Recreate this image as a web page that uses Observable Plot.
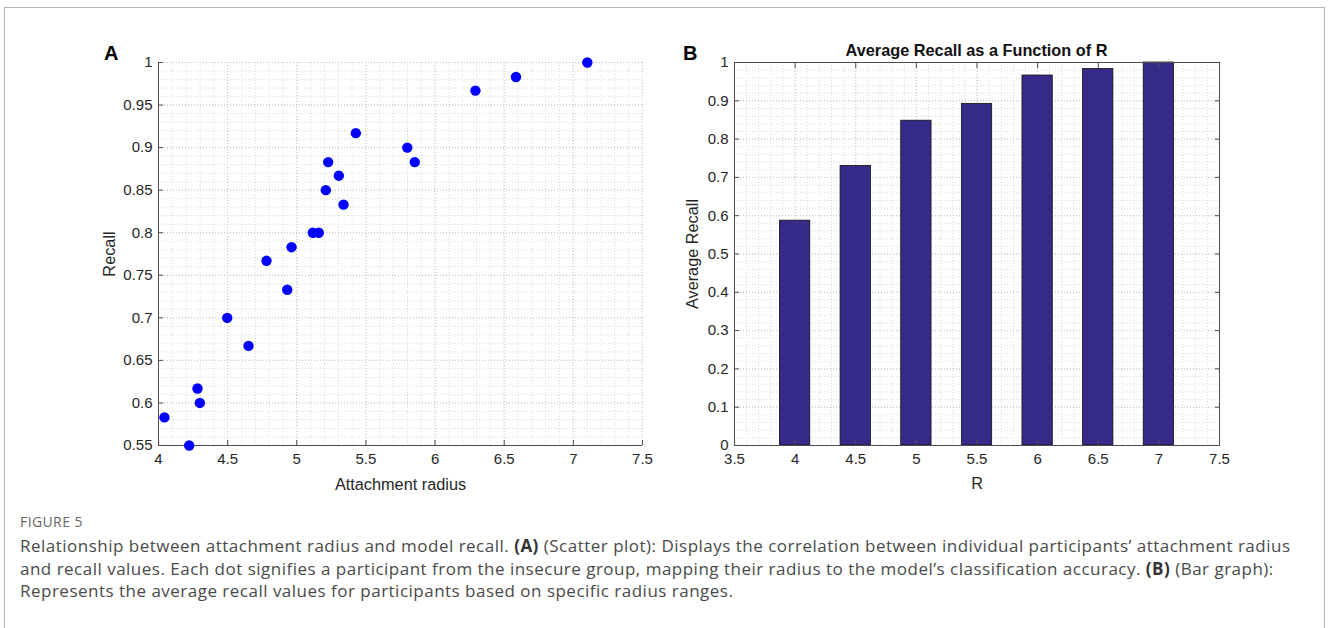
<!DOCTYPE html>
<html>
<head>
<meta charset="utf-8">
<script src="https://cdn.jsdelivr.net/npm/d3@7"></script>
<script src="https://cdn.jsdelivr.net/npm/@observablehq/plot@0.6"></script>
<style>
  html, body { margin: 0; padding: 0; background: #fff; }
  #wrap { position: relative; width: 1328px; height: 628px; overflow: hidden; background: #fff; }
  #frame { position: absolute; left: 4px; top: 7px; width: 1321px; height: 640px; border: 1.5px solid #b4b4b4; box-sizing: border-box; }
  .panel { position: absolute; }
  .plab { position: absolute; font-family: "Liberation Sans", Arial, sans-serif; font-weight: bold; font-size: 20px; color: #000; }
  #title { position: absolute; font-family: "Liberation Sans", Arial, sans-serif; font-weight: bold; font-size: 16.3px; color: #111; left: 734px; width: 485px; text-align: center; top: 41px; }
  #fig { position: absolute; left: 20px; top: 512px; font-family: "Open Sans", sans-serif; font-size: 14px; color: #666; letter-spacing: 0.4px; }
  #cap { position: absolute; left: 20px; top: 535px; font-family: "Open Sans", sans-serif; font-size: 17px; letter-spacing: 0.49px; line-height: 22.5px; color: #4a4a4a; white-space: nowrap; }
  #cap b { color: #333; }
</style>
</head>
<body>
<div id="wrap">
  <div id="frame"></div>
  <div id="pA" class="panel" style="left:90px; top:30px;"></div>
  <div id="pB" class="panel" style="left:666px; top:30px;"></div>
  <div class="plab" style="left:104px; top:42px;">A</div>
  <div class="plab" style="left:683px; top:42px;">B</div>
  <div id="title">Average Recall as a Function of R</div>
  <div id="fig">FIGURE 5</div>
  <div id="cap">Relationship between attachment radius and model recall. <b>(A)</b> (Scatter plot): Displays the correlation between individual participants’ attachment radius<br>and recall values. Each dot signifies a participant from the insecure group, mapping their radius to the model’s classification accuracy. <b>(B)</b> (Bar graph):<br>Represents the average recall values for participants based on specific radius ranges.</div>
</div>
<script>
// ---- Data ----
const scatterRadius = [4.043, 4.222, 4.282, 4.299, 4.497, 4.651, 4.781, 4.931, 4.962, 5.116, 5.159,
                       5.210, 5.227, 5.304, 5.338, 5.427, 5.799, 5.853, 6.292, 6.585, 7.101];
const scatterRecall = [0.583, 0.550, 0.617, 0.600, 0.700, 0.667, 0.767, 0.733, 0.783, 0.800, 0.800,
                       0.850, 0.883, 0.867, 0.833, 0.917, 0.900, 0.883, 0.967, 0.983, 1.000];
const barR = [4, 4.5, 5, 5.5, 6, 6.5, 7];
const barRecall = [0.587, 0.730, 0.848, 0.892, 0.966, 0.983, 1.000];
const xTicksA = [4, 4.5, 5, 5.5, 6, 6.5, 7, 7.5];
const yTicksA = [0.55, 0.6, 0.65, 0.7, 0.75, 0.8, 0.85, 0.9, 0.95, 1];
const xTicksB = [3.5, 4, 4.5, 5, 5.5, 6, 6.5, 7, 7.5];
const yTicksB = [0, 0.1, 0.2, 0.3, 0.4, 0.5, 0.6, 0.7, 0.8, 0.9, 1];

const scatter = scatterRadius.map((r, i) => ({r, recall: scatterRecall[i]}));
const bars = barR.map((r, i) => ({r, recall: barRecall[i]}));

const xMinorA = d3.range(40, 76).map(d => d / 10);
const yMinorA = d3.range(55, 101).map(d => d / 100);
const xMinorB = d3.range(35, 76).map(d => d / 10);
const yMinorB = d3.range(0, 51).map(d => d / 50);

const fmt = d => String(+d.toFixed(2));
const axisColor = "#4d4d4d";
const textColor = "#262626";
const labelFont = "'Liberation Sans', Arial, sans-serif";
const minorStyle = {stroke: "#d9d9d9", strokeDasharray: "1,2", strokeWidth: 1};
const majorStyle = {stroke: "#c4c4c4", strokeDasharray: "1,2", strokeWidth: 1};
const fontStyle = {fontFamily: labelFont, fontSize: "15px", color: textColor, background: "transparent", overflow: "visible"};

// ---- Panel A ----
const plotA = Plot.plot({
  width: 570, height: 480,
  marginLeft: 68, marginRight: 18, marginTop: 32, marginBottom: 65,
  style: fontStyle,
  x: {domain: [4, 7.5]},
  y: {domain: [0.55, 1]},
  marks: [
    Plot.ruleX(xMinorA, {...minorStyle}),
    Plot.ruleY(yMinorA, {...minorStyle}),
    Plot.ruleX(xTicksA, {...majorStyle}),
    Plot.ruleY(yTicksA, {...majorStyle}),
    Plot.ruleX([4], {stroke: axisColor}),
    Plot.ruleY([0.55], {stroke: axisColor}),
    Plot.axisX(xTicksA, {anchor: "bottom", tickSize: -5, tickPadding: 13, tickFormat: fmt, stroke: axisColor, fill: textColor, label: null, fontSize: 15}),
    Plot.axisY(yTicksA, {anchor: "left", tickSize: -5, tickPadding: 11, tickFormat: fmt, stroke: axisColor, fill: textColor, label: null, fontSize: 15}),
    Plot.text(["Attachment radius"], {frameAnchor: "bottom", dy: 39, fontSize: 16.3, fill: textColor, lineAnchor: "middle"}),
    Plot.text(["Recall"], {frameAnchor: "left", dx: -49, rotate: -90, fontSize: 16.3, fill: textColor, textAnchor: "middle", lineAnchor: "middle"}),
    Plot.dot(scatter, {x: "r", y: "recall", r: 5.2, fill: "#0000ff", stroke: "none"})
  ]
});
document.getElementById("pA").appendChild(plotA);

// ---- Panel B ----
const plotB = Plot.plot({
  width: 570, height: 480,
  marginLeft: 68, marginRight: 17, marginTop: 32, marginBottom: 65,
  style: fontStyle,
  x: {domain: [3.5, 7.5]},
  y: {domain: [0, 1]},
  marks: [
    Plot.ruleX(xMinorB, {...minorStyle}),
    Plot.ruleY(yMinorB, {...minorStyle}),
    Plot.ruleX(xTicksB, {...majorStyle}),
    Plot.ruleY(yTicksB, {...majorStyle}),
    Plot.rectY(bars, {x1: d => d.r - 0.125, x2: d => d.r + 0.125, y1: 0, y2: "recall", fill: "#352a87", stroke: "#111", strokeWidth: 0.8}),
    Plot.frame({stroke: axisColor}),
    Plot.axisX(xTicksB, {anchor: "bottom", tickSize: -5, tickPadding: 13, tickFormat: fmt, stroke: axisColor, fill: textColor, label: null, fontSize: 15}),
    Plot.axisX(xTicksB, {anchor: "top", tickSize: -5, tickFormat: () => "", stroke: axisColor, label: null}),
    Plot.axisY(yTicksB, {anchor: "left", tickSize: -5, tickPadding: 11, tickFormat: fmt, stroke: axisColor, fill: textColor, label: null, fontSize: 15}),
    Plot.axisY(yTicksB, {anchor: "right", tickSize: -5, tickFormat: () => "", stroke: axisColor, label: null}),
    Plot.text(["R"], {frameAnchor: "bottom", dy: 38, fontSize: 16.3, fill: textColor, lineAnchor: "middle"}),
    Plot.text(["Average Recall"], {frameAnchor: "left", dx: -42, rotate: -90, fontSize: 16.3, fill: textColor, textAnchor: "middle", lineAnchor: "middle"})
  ]
});
document.getElementById("pB").appendChild(plotB);
</script>
</body>
</html>
